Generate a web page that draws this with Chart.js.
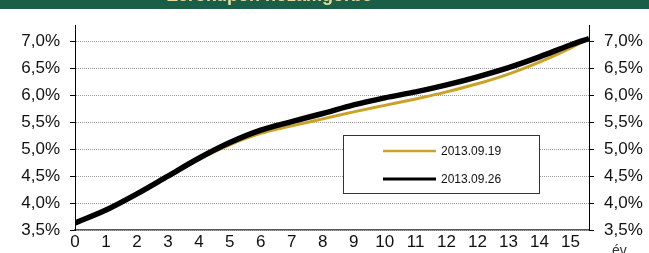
<!DOCTYPE html>
<html><head><meta charset="utf-8">
<script src="https://cdn.jsdelivr.net/npm/chart.js@4"></script>
<style>html,body{margin:0;padding:0;background:#fff;overflow:hidden}#wrap{width:649px;height:253px;position:relative}</style>
</head><body><div id="wrap"><canvas id="c"></canvas></div>
<script>
const chartTitle = "Zérókupon hozamgörbe";
const xAxisUnit = "év";
const xTickLabels = ["0","1","2","3","4","5","6","7","8","9","10","11","12","12","13","14","15"];
const maturities = [0,1,2,3,4,5,6,7,8,9,10,11,12,13,14,15,16,16.6];
const seriesNames = ["2013.09.19","2013.09.26"];
const yield0919 = [3.64,3.88,4.17,4.49,4.81,5.08,5.29,5.43,5.56,5.69,5.81,5.93,6.06,6.21,6.39,6.61,6.87,7.05];
const yield0926 = [3.63,3.87,4.17,4.50,4.83,5.12,5.35,5.51,5.66,5.82,5.95,6.06,6.19,6.34,6.51,6.71,6.93,7.05];
const yMin = 3.5, yMax = 7.3, yStep = 0.5;

const FONT = "'Liberation Sans', Arial, sans-serif";
const colors = ["#c9a227", "#000000"];
const widths = [3, 5.5];

const fmtPct = v => v.toFixed(1).replace('.', ',') + '%';

const bgPlugin = {
  id: 'bg',
  beforeDraw(chart) {
    const ctx = chart.ctx;
    ctx.save();
    ctx.fillStyle = '#ffffff';
    ctx.fillRect(0, 0, chart.width, chart.height);
    ctx.fillStyle = '#1b5e48';
    ctx.fillRect(0, 0, chart.width, 9);
    ctx.fillStyle = '#eadb9c';
    ctx.font = "bold 18px " + FONT;
    ctx.textBaseline = 'alphabetic';
    ctx.textAlign = 'left';
    ctx.fillText(chartTitle, 167, 0.5);
    ctx.restore();
  }
};

const legendPlugin = {
  id: 'customLegend',
  afterDraw(chart) {
    const ctx = chart.ctx;
    ctx.save();
    ctx.fillStyle = '#fff';
    ctx.fillRect(343.5, 135.5, 196, 58);
    ctx.strokeStyle = '#333';
    ctx.lineWidth = 1;
    ctx.strokeRect(343.5, 135.5, 196, 58);
    const rows = [151, 179];
    chart.data.datasets.forEach((ds, i) => {
      ctx.strokeStyle = ds.borderColor;
      ctx.lineWidth = i === 0 ? 2.5 : 3;
      ctx.beginPath();
      ctx.moveTo(383, rows[i]);
      ctx.lineTo(436, rows[i]);
      ctx.stroke();
      ctx.fillStyle = '#111';
      ctx.font = "12px " + FONT;
      ctx.textBaseline = 'middle';
      ctx.fillText(ds.label, 441, rows[i] + 0.5);
    });
    ctx.fillStyle = '#333';
    ctx.font = "14px " + FONT;
    ctx.textBaseline = 'top';
    ctx.fillText(xAxisUnit, 612, 244);
    ctx.restore();
  }
};

const mk = arr => maturities.map((m, i) => ({x: m, y: arr[i]}));

new Chart(document.getElementById('c'), {
  type: 'line',
  data: {
    datasets: [
      {label: seriesNames[0], data: mk(yield0919), borderColor: colors[0], borderWidth: widths[0], pointRadius: 0, cubicInterpolationMode: 'monotone', order: 1, yAxisID: 'y'},
      {label: seriesNames[1], data: mk(yield0926), borderColor: colors[1], borderWidth: widths[1], pointRadius: 0, cubicInterpolationMode: 'monotone', order: 0, yAxisID: 'y'}
    ]
  },
  plugins: [bgPlugin, legendPlugin],
  options: {
    responsive: true,
    maintainAspectRatio: false,
    animation: false,
    devicePixelRatio: 1,
    layout: {padding: {top: 25, left: 0, right: 0, bottom: 0}},
    plugins: {legend: {display: false}, tooltip: {enabled: false}, title: {display: false}},
    scales: {
      x: {
        type: 'linear', min: 0, max: 16.6,
        afterBuildTicks: s => { s.ticks = xTickLabels.map((l, i) => ({value: i})); },
        afterFit: s => { s.height = 23; },
        ticks: {callback: (v, i) => xTickLabels[i], color: '#111', font: {family: FONT, size: 17}, padding: 2, maxRotation: 0, autoSkip: false},
        grid: {display: true, drawOnChartArea: false, drawTicks: false, color: 'rgba(0,0,0,0)'},
        border: {display: true, color: '#555', width: 1.5}
      },
      y: {
        type: 'linear', position: 'left', min: yMin, max: yMax,
        afterFit: s => { s.width = 75; },
        ticks: {stepSize: yStep, includeBounds: false, callback: v => fmtPct(v), color: '#111', font: {family: FONT, size: 17}, padding: 10},
        grid: {color: '#9a9a9a', lineWidth: 1, tickLength: 5, tickColor: '#000', tickWidth: 1, tickBorderDash: []},
        border: {display: true, color: '#000', width: 1, dash: [1, 1]}
      },
      y2: {
        type: 'linear', position: 'right', min: yMin, max: yMax,
        afterFit: s => { s.width = 60; },
        ticks: {stepSize: yStep, includeBounds: false, callback: v => fmtPct(v), color: '#111', font: {family: FONT, size: 17}, padding: 10},
        grid: {drawOnChartArea: false, tickLength: 5, tickColor: '#000', tickWidth: 1},
        border: {display: true, color: '#000', width: 1}
      }
    }
  }
});
</script></body></html>
